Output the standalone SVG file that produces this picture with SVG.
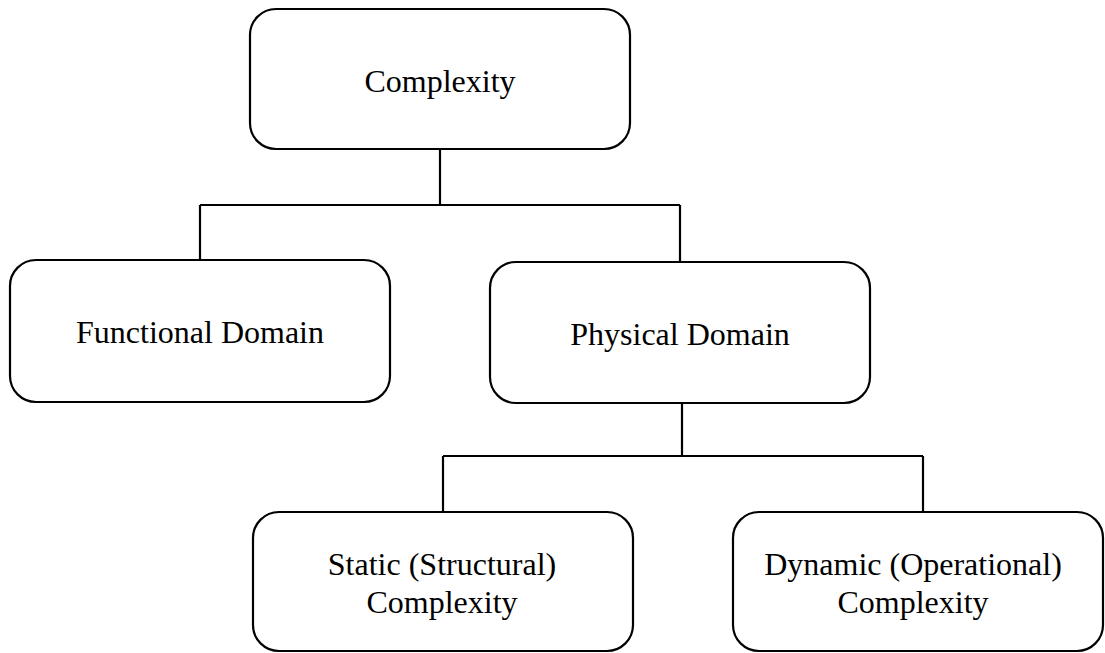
<svg xmlns="http://www.w3.org/2000/svg" width="1105" height="653" viewBox="0 0 1105 653">
  <style>
    .box { fill: #ffffff; stroke: #000000; stroke-width: 2.2; }
    .link { fill: none; stroke: #000000; stroke-width: 2.2; }
    .label { font-family: "Liberation Serif", "Times New Roman", serif; font-size: 32px; fill: #000000; text-anchor: middle; }
  </style>
  <rect width="1105" height="653" fill="#ffffff"/>

  <g id="connectors">
    <path class="link" d="M440 149 V205 M200 205 H680 M200 205 V260 M680 205 V262"/>
    <path class="link" d="M682 403 V456 M443 456 H923 M443 456 V512 M923 456 V512"/>
  </g>

  <g id="complexity">
    <rect class="box" x="250" y="9" width="380" height="140" rx="26"/>
    <text class="label" x="440" y="92">Complexity</text>
  </g>

  <g id="functional-domain">
    <rect class="box" x="10" y="260" width="380" height="142" rx="26"/>
    <text class="label" x="200" y="343">Functional Domain</text>
  </g>

  <g id="physical-domain">
    <rect class="box" x="490" y="262" width="380" height="141" rx="26"/>
    <text class="label" x="680" y="345">Physical Domain</text>
  </g>

  <g id="static-complexity">
    <rect class="box" x="253" y="512" width="380" height="139" rx="26"/>
    <text class="label" x="442" y="575">Static (Structural)</text>
    <text class="label" x="442" y="613">Complexity</text>
  </g>

  <g id="dynamic-complexity">
    <rect class="box" x="733" y="512" width="370" height="139" rx="26"/>
    <text class="label" x="913" y="575">Dynamic (Operational)</text>
    <text class="label" x="913" y="613">Complexity</text>
  </g>
</svg>
